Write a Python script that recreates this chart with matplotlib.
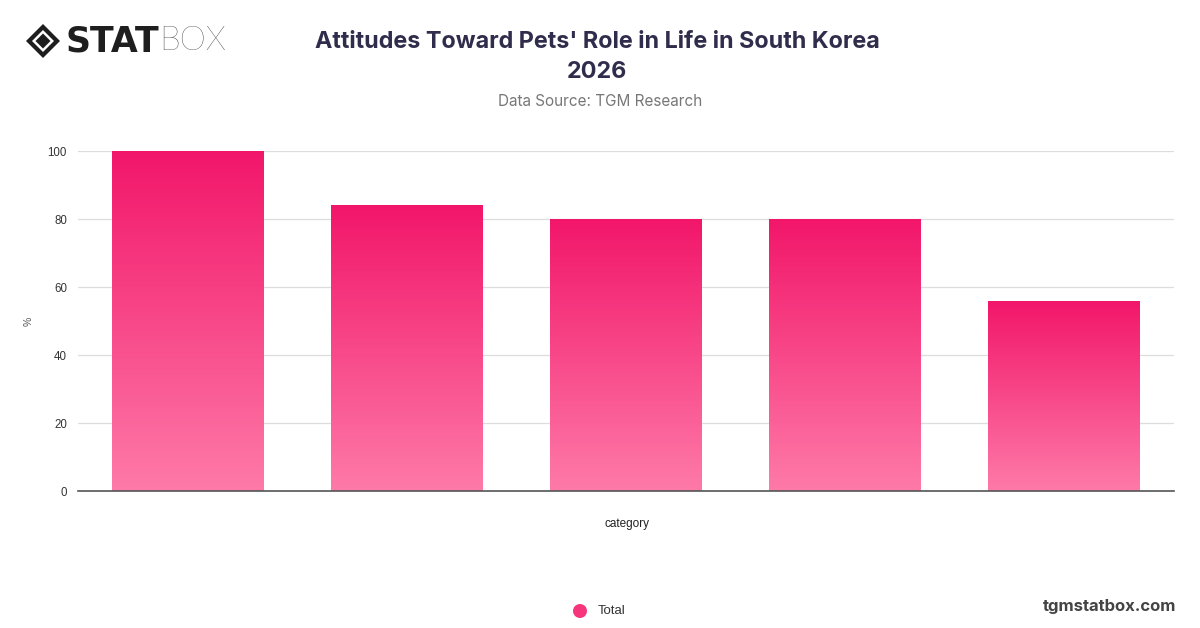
import numpy as np
import matplotlib
matplotlib.use("Agg")
import matplotlib.pyplot as plt
import matplotlib.colors as col
import matplotlib.transforms as mtrans
from matplotlib.patches import Polygon, Ellipse

# data (x tick labels are not shown there)
categories = ["Item 1", "Item 2", "Item 3", "Item 4", "Item 5"]
values = [100, 84, 80, 80, 56]
yticks = [0, 20, 40, 60, 80, 100]
series_name = "Total"

title = "Attitudes Toward Pets' Role in Life in South Korea\n2026"
subtitle = "Data Source: TGM Research"

top_col = "#f2166a"
bot_col = "#fe7aa8"
cmap = col.LinearSegmentedColormap.from_list("pinkgrad", [bot_col, top_col])

W, H = 1200, 628
fig = plt.figure(figsize=(12, 6.28), dpi=100)
ax = fig.add_axes([0.065, 0.218, 0.913, 0.5415])

x = np.arange(len(categories))
bw = 0.69
bars = ax.bar(x, values, width=bw, color="none", edgecolor="none", zorder=2)

# vertical gradient inside each bar
grad = np.linspace(0, 1, 256).reshape(-1, 1)
for b in bars:
    x0, y0 = b.get_x(), b.get_y()
    w, h = b.get_width(), b.get_height()
    im = ax.imshow(grad, cmap=cmap, aspect="auto", origin="lower",
                   extent=[x0, x0 + w, y0, y0 + h], zorder=2)
    im.set_clip_path(b)

ax.set_xlim(-0.5, len(categories) - 0.5)
ax.set_ylim(0, 100)
ax.set_yticks(yticks)
ax.set_xticks(x)
ax.set_xticklabels([])
ax.tick_params(axis="x", length=0)
ax.tick_params(axis="y", length=0, pad=8, labelsize=8.3, labelcolor="#333333")
for t in ax.get_yticklabels():
    t.set_fontfamily(["Liberation Sans", "DejaVu Sans"])
ax.grid(axis="y", color="#dddddd", linewidth=0.9, zorder=0)
for s in ["top", "right", "left"]:
    ax.spines[s].set_visible(False)
ax.spines["bottom"].set_color("#555555")
ax.spines["bottom"].set_linewidth(1.2)
ax.set_axisbelow(True)

fig.text(29 / W, 1 - 321 / H, "%", rotation=90, ha="center", va="center",
         fontsize=7.5, color="#555555", family="Liberation Sans")
fig.text(627 / W, 1 - 524 / H, "category", ha="center", va="center",
         fontsize=8.5, color="#222222", family="Liberation Sans")

# title block
fig.text(597 / W, 1 - 57 / H, title, ha="center", va="center",
         fontsize=16.8, fontweight="bold", color="#302c4b", family="Inter",
         linespacing=1.45)
fig.text(600 / W, 1 - 101 / H, subtitle, ha="center", va="center",
         fontsize=11, color="#777777", family="Inter")

# logo: diamond mark + wordmark
pix = mtrans.Affine2D().scale(1, -1).translate(0, H)
lx, ly = 43, 41
for size, fc in [(17, "#1e1e1e"), (11, "white"), (7.5, "#1e1e1e")]:
    p = Polygon([(lx - size, ly), (lx, ly - size), (lx + size, ly), (lx, ly + size)],
                closed=True, facecolor=fc, edgecolor="none")
    p.set_transform(pix)
    fig.patches.append(p)
fig.text(65 / W, 1 - 41 / H, "STAT", ha="left", va="center",
         fontsize=25, fontweight="heavy", color="#1e1e1e", family="DejaVu Sans")
fig.text(159 / W, 1 - 41 / H, "BOX", ha="left", va="center",
         fontsize=24, fontweight="light", color="#1e1e1e", family="Lato")

# legend
fig.patches.append(Ellipse((580 / W, 1 - 611 / H), 14 / W, 14 / H,
                           transform=fig.transFigure, facecolor="#f6357c",
                           edgecolor="none"))
fig.text(598 / W, 1 - 611 / H, series_name, ha="left", va="center",
         fontsize=9.5, color="#333333", family="Liberation Sans")

fig.text(1176 / W, 1 - 606 / H, "tgmstatbox.com", ha="right", va="center",
         fontsize=12, fontweight="bold", color="#444444", family="Inter")

fig.savefig("out.png", dpi=100, facecolor="white")
